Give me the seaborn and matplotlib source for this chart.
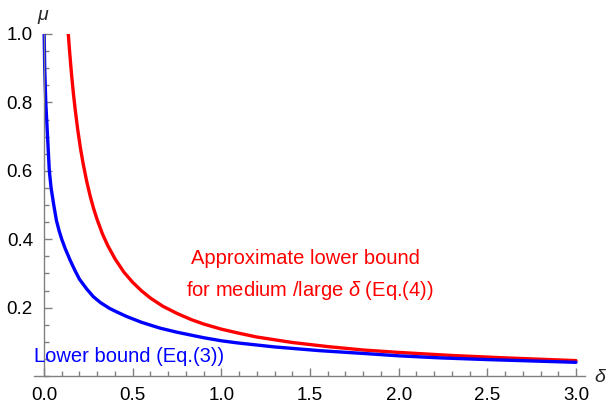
import matplotlib
matplotlib.use("Agg")
import matplotlib.pyplot as plt
import seaborn as sns
from matplotlib.ticker import MultipleLocator

# values
red_delta = [0.137, 0.145, 0.155, 0.165, 0.175, 0.19, 0.205, 0.22, 0.24, 0.26, 0.28, 0.3,
             0.33, 0.36, 0.4, 0.45, 0.5, 0.55, 0.6, 0.67, 0.75, 0.83, 0.9, 1.0, 1.1, 1.2,
             1.4, 1.6, 1.8, 2.0, 2.3, 2.6, 3.0]
red_mu = [1.0, 0.945, 0.884, 0.83, 0.783, 0.721, 0.668, 0.623, 0.571, 0.527, 0.489, 0.457,
          0.415, 0.381, 0.343, 0.304, 0.274, 0.249, 0.228, 0.204, 0.183, 0.165, 0.152, 0.137,
          0.125, 0.114, 0.098, 0.086, 0.076, 0.069, 0.060, 0.053, 0.045]

blue_delta = [0.001, 0.004, 0.01, 0.015, 0.02, 0.025, 0.03, 0.04, 0.055, 0.07, 0.085, 0.1,
              0.12, 0.147, 0.175, 0.2, 0.24, 0.278, 0.32, 0.372, 0.42, 0.466, 0.55, 0.654,
              0.75, 0.9, 1.0, 1.087, 1.3, 1.557, 1.8, 2.0, 2.233, 2.5, 2.75, 3.0]
blue_mu = [1.0, 0.9, 0.8, 0.75, 0.7, 0.65, 0.6, 0.55, 0.5, 0.455, 0.425, 0.4,
           0.372, 0.339, 0.308, 0.283, 0.255, 0.232, 0.214, 0.197, 0.185, 0.174, 0.157, 0.140,
           0.128, 0.112, 0.103, 0.097, 0.085, 0.074, 0.066, 0.059, 0.053, 0.048, 0.044, 0.040]

x_ticks = [0.0, 0.5, 1.0, 1.5, 2.0, 2.5, 3.0]
y_ticks = [0.2, 0.4, 0.6, 0.8, 1.0]

sns.set_style("white")
plt.rcParams['font.family'] = ['Liberation Sans', 'DejaVu Sans']
plt.rcParams['mathtext.fontset'] = 'custom'
plt.rcParams['mathtext.it'] = 'Liberation Sans:italic'
plt.rcParams['mathtext.rm'] = 'Liberation Sans'

fig = plt.figure(figsize=(6.09, 4.07), dpi=100)
ax = fig.add_axes([34 / 609, 1 - 376 / 407, (585 - 34) / 609, (376 - 34) / 407])

sns.lineplot(x=red_delta, y=red_mu, color="#ff0000", lw=2.4, ax=ax, estimator=None)
sns.lineplot(x=blue_delta, y=blue_mu, color="#0000ff", lw=2.4, ax=ax, estimator=None)

ax.set_xlim(-10 / 177.33, 541 / 177.33)
ax.set_ylim(0, 1.0)

for s in ["top", "right"]:
    ax.spines[s].set_visible(False)
ax.spines["left"].set_position(("data", 0))
for s in ["left", "bottom"]:
    ax.spines[s].set_color("#808080")
    ax.spines[s].set_linewidth(1)

ax.set_xticks(x_ticks)
ax.set_xticklabels([f"{v:.1f}" for v in x_ticks])
ax.set_yticks(y_ticks)
ax.set_yticklabels([f"{v:.1f}" for v in y_ticks])
ax.xaxis.set_minor_locator(MultipleLocator(0.1))
ax.yaxis.set_minor_locator(MultipleLocator(0.05))
ax.tick_params(which="both", bottom=True, left=True, top=False, right=False)
ax.tick_params(which="major", direction="in", length=6, width=1, color="#808080",
               labelsize=13.5, pad=8, labelcolor="black")
ax.tick_params(which="minor", direction="in", length=3.5, width=1, color="#808080")
ax.set_xlabel("")
ax.set_ylabel("")

fig.text(43 / 609, 1 - 16 / 407, "μ", style="italic", ha="center", va="center", fontsize=14)
fig.text(600 / 609, 1 - 378 / 407, "δ", style="italic", ha="center", va="center", fontsize=14)

ax.text(1.477, 0.345, "Approximate lower bound", color="#ff0000", fontsize=14.5,
        ha="center", va="center")
ax.text(1.50, 0.251, r"for medium /large $\delta$ (Eq.(4))", color="#ff0000", fontsize=14.5,
        ha="center", va="center")
ax.text(0.479, 0.056, "Lower bound (Eq.(3))", color="#0000ff", fontsize=14.5,
        ha="center", va="center")

plt.savefig("out.png", dpi=100)
plt.close()
